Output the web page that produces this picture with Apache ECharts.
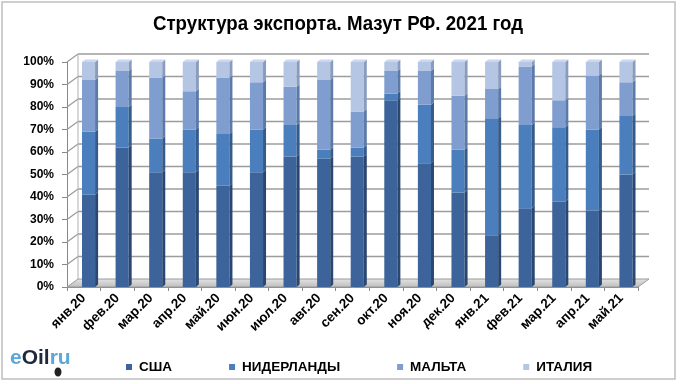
<!DOCTYPE html>
<html><head><meta charset="utf-8">
<script src="https://cdn.jsdelivr.net/npm/echarts@6/dist/echarts.min.js"></script>
<style>html,body{margin:0;padding:0;background:#fff}#c{width:680px;height:384px}</style>
</head><body><div id="c"></div>
<script>
const categories = ['янв.20','фев.20','мар.20','апр.20','май.20','июн.20','июл.20','авг.20','сен.20','окт.20','ноя.20','дек.20','янв.21','фев.21','мар.21','апр.21','май.21'];
const seriesNames = ['США','НИДЕРЛАНДЫ','МАЛЬТА','ИТАЛИЯ'];
const usa    = [41,62,51,51,45,51,58,57,58,83,55,42,23,35,38,34,50];
const neth   = [28,18,15,19,23,19,14, 4, 4, 3,26,19,52,37,33,36,26];
const malta  = [23,16,27,17,25,21,17,31,16,10,15,24,13,26,12,24,15];
const italy  = [ 8, 4, 7,13, 7, 9,11, 8,22, 4, 4,15,12, 2,17, 6, 9];
const yTicks = [0,10,20,30,40,50,60,70,80,90,100];
const titleText = 'Структура экспорта. Мазут РФ. 2021 год';

const values = [usa, neth, malta, italy];
const fronts = ['#3C649B','#4A7EBC','#7F9ECF','#B5C6E5'];
const sides  = ['#2A4772','#345B8A','#5C7AA8','#8A9CBE'];
const tops   = ['#5A7FB0','#6E97CB','#9DB6DC','#CBD7EE'];

const chart = echarts.init(document.getElementById('c'), null, {renderer:'canvas'});
const DX = 3, DY = -2.5;

function makeRender(si){
  return function(params, api){
    const idx = api.value(0);
    let base = 0;
    for (let k = 0; k < si; k++) base += values[k][idx];
    const top = base + api.value(1);
    const p0 = api.coord([idx, base]);
    const p1 = api.coord([idx, top]);
    const band = api.size([1,0])[0];
    const w = band*0.39;
    const left = p0[0] - 1.8;
    const children = [
      {type:'rect', shape:{x:left, y:p1[1], width:w, height:p0[1]-p1[1]}, style:{fill:fronts[si]}},
      {type:'polygon', shape:{points:[[left+w,p1[1]],[left+w+DX,p1[1]+DY],[left+w+DX,p0[1]+DY],[left+w,p0[1]]]}, style:{fill:sides[si]}}
    ];
    if (si === values.length-1) {
      children.push({type:'polygon', shape:{points:[[left,p1[1]],[left+DX,p1[1]+DY],[left+w+DX,p1[1]+DY],[left+w,p1[1]]]}, style:{fill:tops[si]}});
    }
    return {type:'group', children};
  };
}

const sans = '"Liberation Sans",Arial,sans-serif';

const option = {
  animation:false,
  legend:{left:121, top:355, itemGap:57, itemWidth:6, itemHeight:6, icon:'rect',
    data:seriesNames,
    textStyle:{fontFamily:sans, fontWeight:'bold', fontSize:13.5, color:'#000', padding:[0,0,0,2]}},
  grid:{left:67, right:42, top:62, bottom:97, containLabel:false},
  xAxis:{type:'category', data:categories,
    axisLine:{show:true, lineStyle:{color:'#888', width:1}},
    axisTick:{show:true, alignWithLabel:false, length:4, lineStyle:{color:'#888'}},
    axisLabel:{rotate:45, interval:0, margin:9, fontFamily:sans, fontWeight:'bold', fontSize:13.5, color:'#000'},
    splitLine:{show:false}},
  yAxis:{type:'value', min:0, max:100, interval:10,
    axisLine:{show:true, lineStyle:{color:'#888', width:1}},
    axisTick:{show:true, length:5, lineStyle:{color:'#888'}},
    axisLabel:{formatter:'{value}%', margin:13, fontFamily:sans, fontWeight:'bold', fontSize:12, color:'#000'},
    splitLine:{show:false}},
  series: seriesNames.map((n,si)=>({
    name:n, type:'custom', renderItem:makeRender(si), z:10,
    itemStyle:{color:fronts[si]},
    encode:{x:0,y:1},
    data: values[si].map((v,i)=>[i,v])
  }))
};
chart.setOption(option);

// 3D walls / floor decoration computed through the axis scales
const WX = 11, WY = -8;
const g = [];
const bw = chart.getModel().getComponent('xAxis',0).axis.getBandWidth();
const xL = chart.convertToPixel({xAxisIndex:0}, 0) - bw/2;
const xR = chart.convertToPixel({xAxisIndex:0}, categories.length-1) + bw/2;
const y0 = chart.convertToPixel({yAxisIndex:0}, 0);
const y100 = chart.convertToPixel({yAxisIndex:0}, 100);
yTicks.forEach(v=>{
  if (v===0) return;
  const y = chart.convertToPixel({yAxisIndex:0}, v);
  g.push({type:'line', z:1, shape:{x1:xL+WX, y1:y+WY, x2:xR+WX, y2:y+WY}, style:{stroke:'#9C9C9C', lineWidth:1.3}});
  g.push({type:'line', z:1, shape:{x1:xL, y1:y, x2:xL+WX, y2:y+WY}, style:{stroke:'#9C9C9C', lineWidth:1.3}});
});
g.push({type:'line', z:1, shape:{x1:xL+WX, y1:y100+WY, x2:xL+WX, y2:y0+WY}, style:{stroke:'#B0B0B0', lineWidth:1}});
// floor
g.push({type:'polygon', z:2, shape:{points:[[xL,y0],[xL+WX,y0+WY],[xR+WX,y0+WY],[xR,y0]]},
  style:{fill:new echarts.graphic.LinearGradient(0,0,0,1,[{offset:0,color:'#E4E4E4'},{offset:1,color:'#BDBDBD'}]), stroke:'#9A9A9A', lineWidth:1}});
// border
g.push({type:'rect', z:0, shape:{x:2, y:2, width:673, height:377}, style:{fill:'none', stroke:'#BFBFBF', lineWidth:1.5}});
// title (condensed bold)
g.push({type:'text', z:5, x:338, y:24, scaleX:0.89, style:{text:titleText, x:0, y:0, align:'center', verticalAlign:'middle',
  fontFamily:sans, fontWeight:'bold', fontSize:21, fill:'#000'}});
// logo
g.push({type:'text', z:5, x:10, y:358, style:{text:'{a|e}{b|Oil}{a|ru}', x:0, y:0, verticalAlign:'middle', rich:{
  a:{fontFamily:sans, fontSize:21, fontWeight:'bold', fill:'#5BA7DA'}, b:{fontFamily:sans, fontSize:21, fontWeight:'bold', fill:'#1E2A3A'}}}});
g.push({type:'ellipse', z:5, shape:{cx:58, cy:372, rx:3.5, ry:4.5}, style:{fill:'#222'}});
chart.setOption({graphic:g});
</script></body></html>
